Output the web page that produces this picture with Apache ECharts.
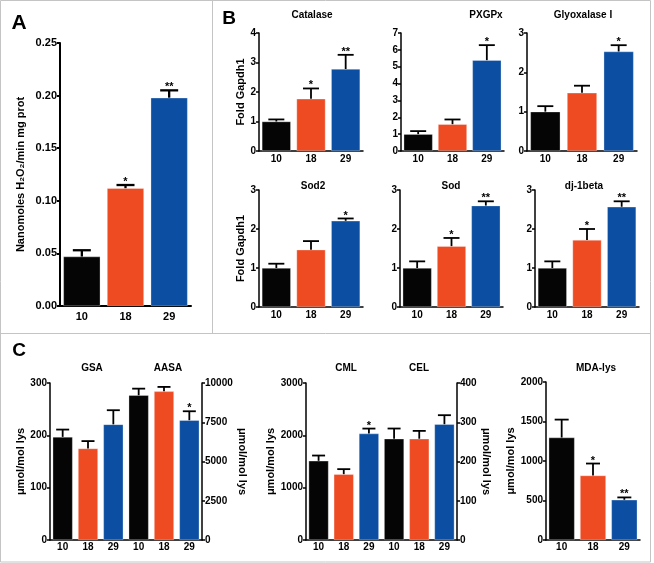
<!DOCTYPE html>
<html>
<head>
<meta charset="utf-8">
<script src="https://cdn.jsdelivr.net/npm/echarts@6/dist/echarts.min.js"></script>
<style>
html,body{margin:0;padding:0;background:#fff;}
#chart{width:654px;height:563px;}
</style>
</head>
<body>
<div id="chart"></div>
<script>
// ---------- DATA ----------
const GROUPS = ['10', '18', '29'];
const GROUPS6 = ['10', '18', '29', '10', '18', '29'];

// Panel A: H2O2 consumption
const aValues = [0.047, 0.112, 0.198];
const aErrTop = [0.053, 0.115, 0.205];
const aStars = ['', '*', '**'];

// Panel B: Fold Gapdh1
const catalaseValues = [1.0, 1.77, 2.78];
const catalaseErrTop = [1.07, 2.12, 3.26];
const catalaseStars = ['', '*', '**'];

const pxgpxValues = [1.0, 1.59, 5.39];
const pxgpxErrTop = [1.18, 1.87, 6.28];
const pxgpxStars = ['', '', '*'];

const glyoxValues = [1.0, 1.48, 2.53];
const glyoxErrTop = [1.14, 1.66, 2.69];
const glyoxStars = ['', '', '*'];

const sod2Values = [1.0, 1.47, 2.21];
const sod2ErrTop = [1.11, 1.69, 2.27];
const sod2Stars = ['', '', '*'];

const sodValues = [1.0, 1.56, 2.6];
const sodErrTop = [1.17, 1.77, 2.71];
const sodStars = ['', '*', '**'];

const djValues = [1.0, 1.72, 2.57];
const djErrTop = [1.17, 2.0, 2.71];
const djStars = ['', '*', '**'];

// Panel C
const gsaValues = [197, 175, 221];
const gsaErrTop = [211, 189, 248];
const gsaStars = ['', '', ''];

const aasaValues = [9220, 9470, 7630];
const aasaErrTop = [9640, 9750, 8200];
const aasaStars = ['', '', '*'];

const cmlValues = [1513, 1258, 2034];
const cmlErrTop = [1614, 1354, 2129];
const cmlStars = ['', '', '*'];

const celValues = [258, 258, 295];
const celErrTop = [284, 278, 318];
const celStars = ['', '', ''];

const mdaValues = [1297, 817, 509];
const mdaErrTop = [1524, 968, 539];
const mdaStars = ['', '*', '**'];

// ---------- STYLE ----------
const FONT = '"Liberation Sans", Arial, Helvetica, sans-serif';
const COLORS = ['#050505', '#ee4b23', '#0b4ea2'];

const grids = [], xAxes = [], yAxes = [], series = [], graphics = [];

function addChart(c) {
  const gi = grids.length;
  const lw = c.lw || 1.5;
  const fs = c.fs || 10;
  grids.push({ left: c.left, top: c.top, width: c.width, height: c.height, containLabel: false });
  xAxes.push({
    gridIndex: gi, type: 'category', data: c.cats,
    axisLine: { show: true, lineStyle: { color: '#000', width: lw } },
    axisTick: { show: false },
    axisLabel: { color: '#000', fontSize: fs, fontWeight: 'bold', fontFamily: FONT, margin: c.xMargin || 3, interval: 0 },
    splitLine: { show: false }
  });
  const xi = xAxes.length - 1;
  const yIdx = [];
  c.axes.forEach(ax => {
    yAxes.push({
      gridIndex: gi, type: 'value', min: ax.min, max: ax.max, interval: ax.interval,
      position: ax.position || 'left',
      axisLine: { show: true, onZero: false, lineStyle: { color: '#000', width: lw } },
      axisTick: { show: true, length: 3, lineStyle: { color: '#000', width: lw } },
      axisLabel: { color: '#000', fontSize: fs, fontWeight: 'bold', fontFamily: FONT, margin: 3,
                   formatter: ax.fmt || (v => String(v)) },
      splitLine: { show: false },
      name: ax.name || '', nameLocation: 'middle', nameGap: ax.nameGap || 20,
      nameRotate: ax.nameRotate !== undefined ? ax.nameRotate : 90,
      nameTextStyle: { color: '#000', fontSize: 11, fontWeight: 'bold', fontFamily: FONT }
    });
    yIdx.push(yAxes.length - 1);
  });
  const n = c.cats.length;
  c.sets.forEach(s => {
    const yi = yIdx[s.axis || 0];
    const off = s.offset || 0;
    const data = [];
    for (let i = 0; i < n; i++) data.push(null);
    s.values.forEach((v, k) => {
      data[off + k] = { value: v, itemStyle: { color: COLORS[k] } };
    });
    series.push({
      type: 'bar', xAxisIndex: xi, yAxisIndex: yi, data: data,
      barWidth: c.barWidth, barGap: '-100%', silent: true, animation: false,
      itemStyle: { borderColor: 'rgba(255,255,255,0.5)', borderWidth: 0.6 }
    });
    const stars = s.stars;
    const capHalf = c.capHalf;
    series.push({
      type: 'custom', xAxisIndex: xi, yAxisIndex: yi, animation: false, silent: true, z: 5,
      data: s.values.map((v, k) => [off + k, v, s.errTop[k]]),
      renderItem: function (params, api) {
        const k = params.dataIndex;
        const x = api.value(0);
        const p0 = api.coord([x, api.value(1)]);
        const p1 = api.coord([x, api.value(2)]);
        const children = [
          { type: 'line', shape: { x1: p0[0], y1: p0[1], x2: p1[0], y2: p1[1] },
            style: { stroke: '#000', lineWidth: lw + 0.3 } },
          { type: 'line', shape: { x1: p1[0] - capHalf, y1: p1[1], x2: p1[0] + capHalf, y2: p1[1] },
            style: { stroke: '#000', lineWidth: lw + 0.3 } }
        ];
        if (stars[k]) {
          children.push({ type: 'text', x: p1[0], y: p1[1] - 3,
            style: { text: stars[k], textAlign: 'center', textVerticalAlign: 'middle',
                     font: 'bold 11px ' + FONT, fill: '#000' } });
        }
        return { type: 'group', children: children };
      }
    });
  });
}

// Panel A
addChart({ left: 60, top: 43, width: 131, height: 263, cats: GROUPS, barWidth: 37, capHalf: 9, lw: 2, fs: 11, xMargin: 5,
  axes: [{ min: 0, max: 0.25, interval: 0.05, fmt: v => v.toFixed(2), name: 'Nanomoles H₂O₂/min mg prot', nameGap: 34 }],
  sets: [{ values: aValues, errTop: aErrTop, stars: aStars }] });

// Panel B top row
addChart({ left: 259, top: 33, width: 104, height: 118, cats: GROUPS, barWidth: 29, capHalf: 8,
  axes: [{ min: 0, max: 4, interval: 1, name: 'Fold Gapdh1', nameGap: 12 }],
  sets: [{ values: catalaseValues, errTop: catalaseErrTop, stars: catalaseStars }] });
addChart({ left: 401, top: 33, width: 103, height: 118, cats: GROUPS, barWidth: 29, capHalf: 8,
  axes: [{ min: 0, max: 7, interval: 1 }],
  sets: [{ values: pxgpxValues, errTop: pxgpxErrTop, stars: pxgpxStars }] });
addChart({ left: 527, top: 33, width: 110, height: 118, cats: GROUPS, barWidth: 30, capHalf: 8,
  axes: [{ min: 0, max: 3, interval: 1 }],
  sets: [{ values: glyoxValues, errTop: glyoxErrTop, stars: glyoxStars }] });

// Panel B bottom row
addChart({ left: 259, top: 190, width: 104, height: 117, cats: GROUPS, barWidth: 29, capHalf: 8,
  axes: [{ min: 0, max: 3, interval: 1, name: 'Fold Gapdh1', nameGap: 12 }],
  sets: [{ values: sod2Values, errTop: sod2ErrTop, stars: sod2Stars }] });
addChart({ left: 400, top: 190, width: 103, height: 117, cats: GROUPS, barWidth: 29, capHalf: 8,
  axes: [{ min: 0, max: 3, interval: 1 }],
  sets: [{ values: sodValues, errTop: sodErrTop, stars: sodStars }] });
addChart({ left: 535, top: 190, width: 104, height: 117, cats: GROUPS, barWidth: 29, capHalf: 8,
  axes: [{ min: 0, max: 3, interval: 1 }],
  sets: [{ values: djValues, errTop: djErrTop, stars: djStars }] });

// Panel C
addChart({ left: 50, top: 383, width: 152, height: 157, cats: GROUPS6, barWidth: 20, capHalf: 6.5, xMargin: 2,
  axes: [{ min: 0, max: 300, interval: 100, name: 'μmol/mol lys', nameGap: 24 },
         { min: 0, max: 10000, interval: 2500, position: 'right', name: 'μmol/mol lys', nameGap: 28, nameRotate: -90 }],
  sets: [{ values: gsaValues, errTop: gsaErrTop, stars: gsaStars, axis: 0, offset: 0 },
         { values: aasaValues, errTop: aasaErrTop, stars: aasaStars, axis: 1, offset: 3 }] });
addChart({ left: 306, top: 383, width: 151, height: 157, cats: GROUPS6, barWidth: 20, capHalf: 6.5, xMargin: 2,
  axes: [{ min: 0, max: 3000, interval: 1000, name: 'μmol/mol lys', nameGap: 27 },
         { min: 0, max: 400, interval: 100, position: 'right', name: 'μmol/mol lys', nameGap: 22, nameRotate: -90 }],
  sets: [{ values: cmlValues, errTop: cmlErrTop, stars: cmlStars, axis: 0, offset: 0 },
         { values: celValues, errTop: celErrTop, stars: celStars, axis: 1, offset: 3 }] });
addChart({ left: 546, top: 382, width: 94, height: 158, cats: GROUPS, barWidth: 26, capHalf: 7, xMargin: 2,
  axes: [{ min: 0, max: 2000, interval: 500, name: 'μmol/mol lys', nameGap: 27 }],
  sets: [{ values: mdaValues, errTop: mdaErrTop, stars: mdaStars }] });

// Titles & panel letters
function txt(t, x, y, size) {
  graphics.push({ type: 'text', x: x, y: y, silent: true,
    style: { text: t, textAlign: 'center', textVerticalAlign: 'middle', font: 'bold ' + size + 'px ' + FONT, fill: '#000' } });
}
txt('A', 19, 23, 21);
txt('B', 229, 19, 19);
txt('C', 19, 351, 19);
txt('Catalase', 312, 15, 10);
txt('PXGPx', 486, 15, 10);
txt('Glyoxalase I', 583, 15, 10);
txt('Sod2', 313, 186, 10);
txt('Sod', 451, 186, 10);
txt('dj-1beta', 584, 186, 10);
txt('GSA', 92, 368, 10);
txt('AASA', 168, 368, 10);
txt('CML', 346, 368, 10);
txt('CEL', 419, 368, 10);
txt('MDA-lys', 596, 368, 10);

// Panel frame lines
graphics.push({ type: 'rect', silent: true, shape: { x: 0.5, y: 0.5, width: 650, height: 561.5 },
  style: { fill: 'none', stroke: '#c4c4c4', lineWidth: 1 } });
graphics.push({ type: 'line', silent: true, shape: { x1: 212.5, y1: 0, x2: 212.5, y2: 333 },
  style: { stroke: '#c4c4c4', lineWidth: 1 } });
graphics.push({ type: 'line', silent: true, shape: { x1: 0, y1: 333.5, x2: 650.5, y2: 333.5 },
  style: { stroke: '#c4c4c4', lineWidth: 1 } });

const chart = echarts.init(document.getElementById('chart'), null, { renderer: 'canvas' });
chart.setOption({
  backgroundColor: '#fff',
  animation: false,
  textStyle: { fontFamily: FONT },
  grid: grids, xAxis: xAxes, yAxis: yAxes, series: series, graphic: graphics
});
</script>
</body>
</html>
